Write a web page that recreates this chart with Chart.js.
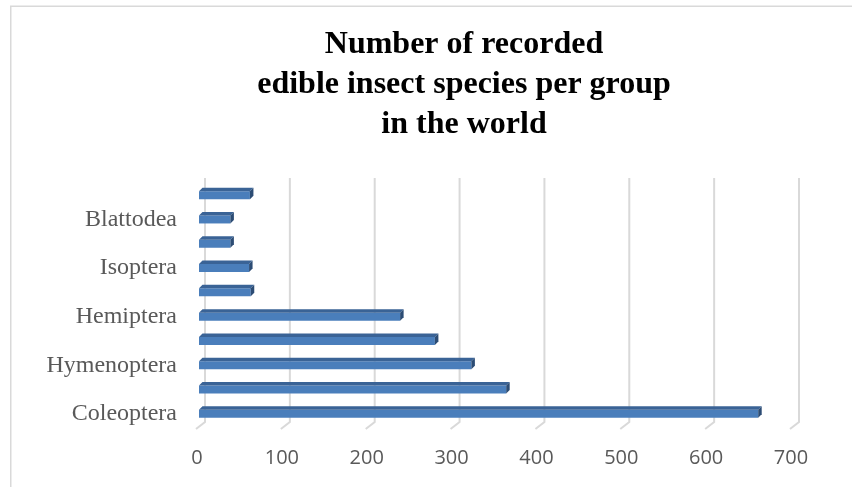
<!DOCTYPE html>
<html>
<head>
<meta charset="utf-8">
<script src="https://cdn.jsdelivr.net/npm/chart.js@4/dist/chart.umd.min.js"></script>
<style>
  html, body { margin: 0; padding: 0; background: #fff; }
  #wrap { width: 852px; height: 487px; position: relative; }
</style>
</head>
<body>
<div id="wrap"><canvas id="insectChart"></canvas></div>
<script>
// insect orders, bottom to top
const categories = ['Coleoptera', 'Lepidoptera', 'Hymenoptera', 'Orthoptera', 'Hemiptera',
  'Odonata', 'Isoptera', 'Diptera', 'Blattodea', 'Others'];
const speciesCount = [659, 362, 321, 278, 237, 61, 59, 37, 37, 60];
const xMax = 700;
const xStep = 100;
const titleLines = ['Number of recorded', 'edible insect species per group', 'in the world'];

const gridColor = '#d9d9d9';
const labelColor = '#595959';

// outer frame + three-line serif title
const frameAndTitle = {
  id: 'frameAndTitle',
  beforeDraw(chart) {
    const ctx = chart.ctx;
    ctx.save();
    ctx.fillStyle = '#fff';
    ctx.fillRect(0, 0, chart.width, chart.height);
    ctx.strokeStyle = gridColor;
    ctx.lineWidth = 1.5;
    ctx.beginPath();
    ctx.moveTo(10.75, chart.height);
    ctx.lineTo(10.75, 6.25);
    ctx.lineTo(chart.width, 6.25);
    ctx.stroke();
    ctx.restore();
  },
  afterDraw(chart) {
    const ctx = chart.ctx;
    const cx = 464;
    const baselines = [53, 93, 133];
    ctx.save();
    ctx.fillStyle = '#000';
    ctx.font = 'bold 32px "Liberation Serif", "Times New Roman", serif';
    ctx.textAlign = 'center';
    ctx.textBaseline = 'alphabetic';
    titleLines.forEach((line, i) => ctx.fillText(line, cx, baselines[i]));
    ctx.restore();
  }
};

// back-wall gridlines with the floor edge slanting to the front
const wallGrid = {
  id: 'wallGrid',
  beforeDatasetsDraw(chart) {
    const ctx = chart.ctx;
    const xs = chart.scales.x;
    const area = chart.chartArea;
    ctx.save();
    ctx.strokeStyle = gridColor;
    ctx.lineWidth = 2;
    xs.ticks.forEach(t => {
      const px = xs.getPixelForValue(t.value);
      ctx.beginPath();
      ctx.moveTo(px + 6, area.top - 5);
      ctx.lineTo(px + 6, area.bottom - 4);
      ctx.lineTo(px - 3, area.bottom + 3);
      ctx.stroke();
    });
    ctx.restore();
  }
};

// top and end faces to give the bars depth
const barDepth = {
  id: 'barDepth',
  afterDatasetsDraw(chart) {
    const ctx = chart.ctx;
    const d = 3.5;
    ctx.save();
    chart.getDatasetMeta(0).data.forEach(bar => {
      const top = bar.y - bar.height / 2;
      const bottom = bar.y + bar.height / 2;
      const left = bar.base;
      const right = bar.x;
      ctx.fillStyle = '#3a6396';
      ctx.beginPath();
      ctx.moveTo(left, top);
      ctx.lineTo(left + d, top - d);
      ctx.lineTo(right + d, top - d);
      ctx.lineTo(right, top);
      ctx.closePath();
      ctx.fill();
      ctx.fillStyle = '#2c4c74';
      ctx.beginPath();
      ctx.moveTo(right, top);
      ctx.lineTo(right + d, top - d);
      ctx.lineTo(right + d, bottom - d);
      ctx.lineTo(right, bottom);
      ctx.closePath();
      ctx.fill();
    });
    ctx.restore();
  }
};

new Chart(document.getElementById('insectChart'), {
  type: 'bar',
  data: {
    labels: categories,
    datasets: [{
      data: speciesCount,
      backgroundColor: '#4a7ebb',
      borderWidth: 0,
      barPercentage: 0.33,
      categoryPercentage: 1
    }]
  },
  options: {
    indexAxis: 'y',
    responsive: true,
    maintainAspectRatio: false,
    animation: false,
    layout: { padding: { top: 183, right: 59, bottom: 0, left: 0 } },
    plugins: {
      legend: { display: false },
      tooltip: { enabled: false },
      title: { display: false }
    },
    scales: {
      x: {
        min: 0,
        max: xMax,
        grid: { display: false, drawTicks: false },
        border: { display: false },
        ticks: {
          stepSize: xStep,
          padding: 20,
          labelOffset: -2,
          color: labelColor,
          font: { family: '"Open Sans", sans-serif', size: 20 }
        },
        afterFit(scale) { scale.height = 61; }
      },
      y: {
        reverse: true,
        grid: { display: false, drawTicks: false },
        border: { display: false },
        ticks: {
          autoSkip: false,
          padding: 22,
          color: labelColor,
          font: { family: '"Liberation Serif", "Times New Roman", serif', size: 24 },
          callback: (v, i) => (i % 2 === 0 ? categories[i] : '')
        },
        afterFit(scale) { scale.width = 199; }
      }
    }
  },
  plugins: [frameAndTitle, wallGrid, barDepth]
});
</script>
</body>
</html>
